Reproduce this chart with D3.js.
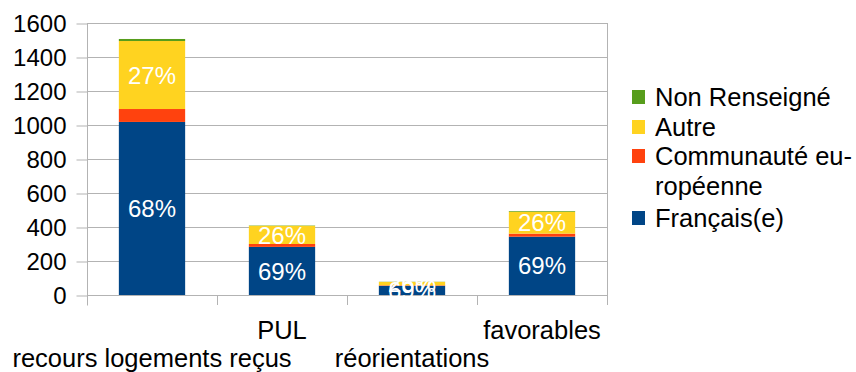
<!DOCTYPE html>
<html>
<head>
<meta charset="utf-8">
<script src="https://cdn.jsdelivr.net/npm/d3@7"></script>
<style>
  body { margin: 0; background: #fff; }
  text { font-family: "Liberation Sans", Arial, sans-serif; }
</style>
</head>
<body>
<div id="chart"></div>
<script>
// categories and series
var categories = ["recours logements reçus", "PUL", "réorientations", "favorables"];
var francais    = [1018, 283, 54, 343];
var communaute  = [76, 17, 3, 18];
var autre       = [400, 107, 20, 129];
var nonRens     = [12, 2, 1, 4];
var yTicks = [0, 200, 400, 600, 800, 1000, 1200, 1400, 1600];

var seriesKeys = ["francais", "communaute", "autre", "nonRens"];
var seriesNames = {
  francais: "Français(e)",
  communaute: "Communauté eu-|ropéenne",
  autre: "Autre",
  nonRens: "Non Renseigné"
};
var colors = {
  francais: "#004586",
  communaute: "#ff420e",
  autre: "#ffd320",
  nonRens: "#579d1c"
};

var width = 856, height = 372;
var plot = { left: 87, right: 607, top: 23, bottom: 295 };

var rows = categories.map(function(c, i) {
  return {
    cat: c,
    francais: francais[i],
    communaute: communaute[i],
    autre: autre[i],
    nonRens: nonRens[i]
  };
});

var svg = d3.select("#chart").append("svg")
  .attr("width", width)
  .attr("height", height);

var xScale = d3.scaleBand()
  .domain(categories)
  .range([plot.left, plot.right])
  .paddingInner(0.49)
  .paddingOuter(0.245);

var yScale = d3.scaleLinear()
  .domain([0, 1600])
  .range([plot.bottom, plot.top]);

// grid lines
svg.append("g")
  .selectAll("line")
  .data(yTicks)
  .enter()
  .append("line")
  .attr("x1", plot.left)
  .attr("x2", plot.right)
  .attr("y1", function(d) { return yScale(d) + 0.5; })
  .attr("y2", function(d) { return yScale(d) + 0.5; })
  .attr("stroke", "#b3b3b3")
  .attr("stroke-width", 1);

// right border
svg.append("line")
  .attr("x1", plot.right + 0.5).attr("x2", plot.right + 0.5)
  .attr("y1", plot.top).attr("y2", plot.bottom)
  .attr("stroke", "#b3b3b3");

// stacked bars
var stack = d3.stack().keys(seriesKeys);
var stacked = stack(rows);

svg.append("g")
  .selectAll("g")
  .data(stacked)
  .enter()
  .append("g")
  .attr("fill", function(d) { return colors[d.key]; })
  .selectAll("rect")
  .data(function(d) { return d; })
  .enter()
  .append("rect")
  .attr("x", function(d) { return xScale(d.data.cat); })
  .attr("y", function(d) { return yScale(d[1]); })
  .attr("width", xScale.bandwidth())
  .attr("height", function(d) { return yScale(d[0]) - yScale(d[1]); });

// y axis
var yAxis = svg.append("g")
  .attr("transform", "translate(" + (plot.left + 0.5) + ",0.5)")
  .call(d3.axisLeft(yScale).tickValues(yTicks).tickFormat(d3.format("d")).tickSize(11).tickPadding(10));
yAxis.select(".domain").remove();
yAxis.append("line")
  .attr("y1", plot.top).attr("y2", plot.bottom + 10)
  .attr("stroke", "#b3b3b3");
yAxis.selectAll(".tick line").attr("stroke", "#b3b3b3");
yAxis.selectAll(".tick text")
  .attr("fill", "#000")
  .style("font-size", "24px")
  .style("font-family", "'Liberation Sans', Arial, sans-serif");

// x axis ticks at band boundaries
var step = xScale.step();
var bounds = d3.range(categories.length + 1).map(function(i) { return plot.left + i * step; });
svg.append("g")
  .selectAll("line")
  .data(bounds)
  .enter()
  .append("line")
  .attr("x1", function(d) { return Math.round(d) + 0.5; })
  .attr("x2", function(d) { return Math.round(d) + 0.5; })
  .attr("y1", plot.bottom)
  .attr("y2", plot.bottom + 10)
  .attr("stroke", "#b3b3b3");

// category labels, staggered
svg.append("g")
  .selectAll("text")
  .data(categories)
  .enter()
  .append("text")
  .attr("x", function(d) { return xScale(d) + xScale.bandwidth() / 2; })
  .attr("y", function(d, i) { return i % 2 === 0 ? 367 : 339; })
  .attr("text-anchor", "middle")
  .style("font-size", "25.5px")
  .attr("fill", "#000")
  .text(function(d) { return d; });

// percentage labels
var labelKeys = ["francais", "autre"];
stacked.forEach(function(layer) {
  if (labelKeys.indexOf(layer.key) < 0) return;
  svg.append("g")
    .selectAll("text")
    .data(layer)
    .enter()
    .append("text")
    .attr("x", function(d) { return xScale(d.data.cat) + xScale.bandwidth() / 2; })
    .attr("y", function(d) { return (yScale(d[0]) + yScale(d[1])) / 2; })
    .attr("dy", "0.36em")
    .attr("text-anchor", "middle")
    .attr("fill", "#fff")
    .style("font-size", "24px")
    .text(function(d) {
      var total = d.data.francais + d.data.communaute + d.data.autre + d.data.nonRens;
      return Math.round(d.data[layer.key] / total * 100) + "%";
    });
});

// legend
var legendItems = seriesKeys.slice().reverse();
var legendY = [97, 127, 156, 218];
var legend = svg.append("g");
legendItems.forEach(function(k, i) {
  var g = legend.append("g").attr("transform", "translate(632," + legendY[i] + ")");
  g.append("rect")
    .attr("x", 0).attr("y", -7)
    .attr("width", 13).attr("height", 14)
    .attr("fill", colors[k]);
  var lines = seriesNames[k].split("|");
  lines.forEach(function(t, j) {
    g.append("text")
      .attr("x", 23)
      .attr("y", j * 30)
      .attr("dy", "0.36em")
      .style("font-size", "25.5px")
      .attr("fill", "#000")
      .text(t);
  });
});
</script>
</body>
</html>
